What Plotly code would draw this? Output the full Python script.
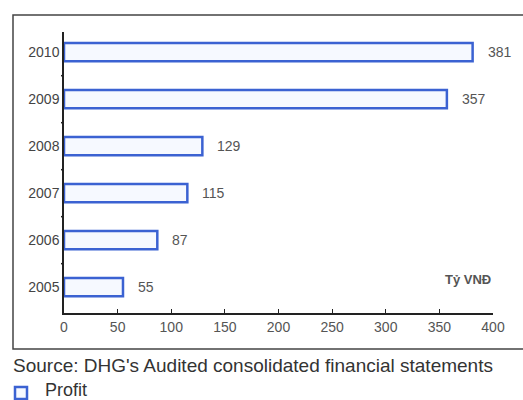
import plotly.graph_objects as go

# Profit by year (billion VND)
years = ["2005", "2006", "2007", "2008", "2009", "2010"]
profit = [55, 87, 115, 129, 357, 381]
x_ticks = [0, 50, 100, 150, 200, 250, 300, 350, 400]

W, H = 523, 400
L, R, T, B = 64, 30, 32, 87
PW, PH = W - L - R, H - T - B


def px_x(px):
    return (px - L) / PW


def px_y(py):
    return (H - B - py) / PH


BLUE = "#3b62d2"
FONT = "Liberation Sans, Arial, sans-serif"

fig = go.Figure()
fig.add_trace(go.Bar(
    x=profit,
    y=list(range(len(years))),
    orientation="h",
    width=0.39,
    name="Profit",
    marker=dict(color="#f6f9ff", line=dict(color=BLUE, width=2.5)),
    hovertext=years,
    hoverinfo="x+text",
    showlegend=False,
))

# value labels to the right of each bar
for i, v in enumerate(profit):
    fig.add_annotation(
        x=v, y=i, text=str(v), showarrow=False,
        xanchor="left", yanchor="middle", xshift=13,
        font=dict(family=FONT, size=14, color="#555555"),
    )

# unit label
fig.add_annotation(
    x=400, y=0, text="<b>Tỷ VNĐ</b>", showarrow=False,
    xanchor="right", yanchor="middle", yshift=8,
    font=dict(family=FONT, size=13, color="#555555"),
)

# source line under the chart
fig.add_annotation(
    xref="paper", yref="paper", x=px_x(11), y=px_y(365),
    text="Source: DHG's Audited consolidated financial statements",
    showarrow=False, xanchor="left", yanchor="middle",
    font=dict(family=FONT, size=19, color="#333333"),
)

# legend key: outlined square with series name
fig.add_shape(
    type="rect", xref="paper", yref="paper",
    x0=px_x(15), x1=px_x(27), y0=px_y(399), y1=px_y(387),
    line=dict(color=BLUE, width=2.5), fillcolor="#f6f9ff",
)
fig.add_annotation(
    xref="paper", yref="paper", x=px_x(43), y=px_y(390),
    text="Profit", showarrow=False, xanchor="left", yanchor="middle",
    font=dict(family=FONT, size=18, color="#333333"),
)

# chart frame
fig.add_shape(
    type="rect", xref="paper", yref="paper",
    x0=px_x(13), x1=px_x(560), y0=px_y(349), y1=px_y(15),
    line=dict(color="#444444", width=1.5), layer="below",
)

fig.update_layout(
    width=W, height=H,
    margin=dict(l=L, r=R, t=T, b=B, pad=0, autoexpand=False),
    paper_bgcolor="white",
    plot_bgcolor="white",
    showlegend=False,
    xaxis=dict(
        range=[0, 400], tickvals=x_ticks, ticktext=[str(t) for t in x_ticks],
        showgrid=False, zeroline=False,
        showline=True, linecolor="#222222", linewidth=1.5,
        ticks="inside", ticklen=4, tickcolor="#222222",
        tickfont=dict(family=FONT, size=14, color="#555555"),
        fixedrange=True,
    ),
    yaxis=dict(
        range=[-0.55, 5.43],
        tickvals=list(range(len(years))), ticktext=years,
        showgrid=False, zeroline=False,
        showline=True, linecolor="#222222", linewidth=1.5,
        ticks="",
        tickfont=dict(family=FONT, size=14, color="#444444"),
        fixedrange=True,
    ),
)

# small marks on the value axis between year bands
for k in range(len(years)):
    fig.add_shape(
        type="line", xref="paper", yref="y",
        x0=px_x(61), x1=px_x(64), y0=k + 0.5, y1=k + 0.5,
        line=dict(color="#222222", width=1.5),
    )

fig.write_html("out.html")
